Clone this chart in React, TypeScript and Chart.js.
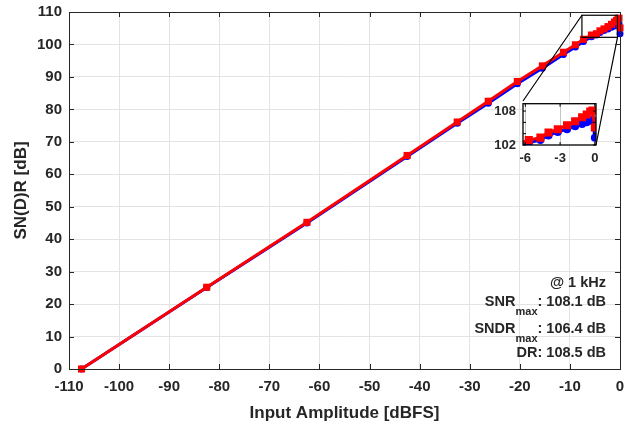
import { useEffect, useRef } from "react";
import { Chart, registerables } from "chart.js";

Chart.register(...registerables);

// ---------------- data ----------------
const INPUT_DBFS = [
  -107.5, -82.5, -62.5, -42.5, -32.5, -26.3, -20.5, -15.5, -11.3, -8.9, -7.3,
  -5.7, -4.7, -4.0, -3.2, -2.4, -1.7, -1.1, -0.7, -0.4, -0.2, 0,
];
const SNR_DB = [
  0, 25.2, 45.2, 65.8, 76.1, 82.5, 88.6, 93.4, 97.6, 99.9, 101.6,
  102.9, 103.3, 104.2, 104.8, 105.5, 106.2, 106.9, 107.4, 107.9, 108.1, 105.1,
];
const SNDR_DB = [
  0, 25.1, 45.0, 65.5, 75.7, 81.9, 87.9, 92.7, 96.9, 99.2, 100.9,
  102.4, 102.9, 103.7, 104.3, 104.8, 105.3, 105.7, 106.0, 106.3, 106.4, 103.3,
];

const X_RANGE = [-110, 0];
const Y_RANGE = [0, 110];
const X_STEP = 10;
const Y_STEP = 10;

const ZOOM_X = [-7.6, -0.5];
const ZOOM_Y = [102.2, 109];

const INSET_X_RANGE = [-6.2, 0.1];
const INSET_Y_RANGE = [102, 109.3];
const INSET_X_TICKS = [-6, -3, 0];
const INSET_Y_TICKS = [102, 104, 106, 108];
const INSET_Y_LABELED = [102, 108];

const X_TITLE = "Input Amplitude [dBFS]";
const Y_TITLE = "SN(D)R [dB]";

const NOTES: { main: string; sub?: string; rest?: string }[] = [
  { main: "@ 1 kHz" },
  { main: "SNR", sub: "max", rest: ": 108.1 dB" },
  { main: "SNDR", sub: "max", rest: ": 106.4 dB" },
  { main: "DR: 108.5 dB" },
];

// ---------------- layout / style ----------------
const W = 632;
const H = 424;
const FONT = "'Liberation Sans', Arial, Helvetica, sans-serif";
const AX = "#262626";
const GRID = "#e3e3e3";
const RED = "#ff0000";
const BLUE = "#0000ff";

const INSET_BOX = { left: 523, top: 101, width: 73, height: 44 };
const INSET_Y_AXIS_W = 44;
const INSET_X_AXIS_H = 24;
const INSET_PAD_TOP = 3;
const INSET_PAD_RIGHT = 6;
const IW = INSET_Y_AXIS_W + INSET_BOX.width + INSET_PAD_RIGHT;
const IH = INSET_PAD_TOP + INSET_BOX.height + INSET_X_AXIS_H;

const NOTE_RIGHT_OFFSET = 14; // from chart right
const NOTE_BASELINES = [82, 63.5, 36.5, 12.5]; // above chart bottom
const SUB_DROP = 9.5;

function points(ys: number[]) {
  return INPUT_DBFS.map((x, i) => ({ x, y: ys[i] }));
}

function fixX(height: number) {
  return (s: any) => {
    s.height = height;
    s.paddingLeft = 0;
    s.paddingRight = 0;
  };
}
function fixY(width: number) {
  return (s: any) => {
    s.width = width;
    s.paddingTop = 0;
    s.paddingBottom = 0;
  };
}

const mainPlugin = {
  id: "mainDecor",
  afterDatasetsDraw(chart: any) {
    const { ctx, scales } = chart;
    const xs = scales.x;
    const ys = scales.y;
    const l = xs.getPixelForValue(ZOOM_X[0]);
    const r = xs.getPixelForValue(ZOOM_X[1]);
    const t = ys.getPixelForValue(ZOOM_Y[1]);
    const b = ys.getPixelForValue(ZOOM_Y[0]);
    ctx.save();
    ctx.strokeStyle = "#000";
    ctx.lineWidth = 1.2;
    ctx.strokeRect(l, t, r - l, b - t);
    ctx.beginPath();
    ctx.moveTo(l, t);
    ctx.lineTo(INSET_BOX.left, INSET_BOX.top);
    ctx.moveTo(r, b);
    ctx.lineTo(INSET_BOX.left + INSET_BOX.width, INSET_BOX.top + INSET_BOX.height);
    ctx.stroke();
    ctx.restore();
  },
  afterDraw(chart: any) {
    const { ctx, chartArea: ca, scales } = chart;
    ctx.save();
    ctx.strokeStyle = AX;
    ctx.lineWidth = 1;
    ctx.strokeRect(Math.round(ca.left) + 0.5, Math.round(ca.top) + 0.5, Math.round(ca.right - ca.left), Math.round(ca.bottom - ca.top));
    const TL = 5;
    ctx.beginPath();
    for (const tk of scales.x.ticks) {
      const px = Math.round(scales.x.getPixelForValue(tk.value)) + 0.5;
      ctx.moveTo(px, ca.bottom);
      ctx.lineTo(px, ca.bottom - TL);
      ctx.moveTo(px, ca.top);
      ctx.lineTo(px, ca.top + TL);
    }
    for (const tk of scales.y.ticks) {
      const py = Math.round(scales.y.getPixelForValue(tk.value)) + 0.5;
      ctx.moveTo(ca.left, py);
      ctx.lineTo(ca.left + TL, py);
      ctx.moveTo(ca.right, py);
      ctx.lineTo(ca.right - TL, py);
    }
    ctx.stroke();

    // annotations
    const mainFont = `bold 14.5px ${FONT}`;
    const subFont = `bold 11px ${FONT}`;
    ctx.fillStyle = AX;
    ctx.textBaseline = "alphabetic";
    ctx.textAlign = "left";
    const right = ca.right - NOTE_RIGHT_OFFSET;
    NOTES.forEach((n, i) => {
      const y = ca.bottom - NOTE_BASELINES[i];
      ctx.font = mainFont;
      const wMain = ctx.measureText(n.main).width;
      const wRest = n.rest ? ctx.measureText(n.rest).width : 0;
      ctx.font = subFont;
      const wSub = n.sub ? ctx.measureText(n.sub).width : 0;
      let x = right - (wMain + wSub + wRest);
      ctx.font = mainFont;
      ctx.fillText(n.main, x, y);
      x += wMain;
      if (n.sub) {
        ctx.font = subFont;
        ctx.fillText(n.sub, x, y + SUB_DROP);
        x += wSub;
      }
      if (n.rest) {
        ctx.font = mainFont;
        ctx.fillText(n.rest, x, y);
      }
    });
    ctx.restore();
  },
};

const insetPlugin = {
  id: "insetDecor",
  beforeDraw(chart: any) {
    const { ctx, chartArea: ca } = chart;
    ctx.save();
    ctx.fillStyle = "#fff";
    ctx.fillRect(ca.left, ca.top, ca.right - ca.left, ca.bottom - ca.top);
    ctx.restore();
  },
  afterDraw(chart: any) {
    const { ctx, chartArea: ca, scales } = chart;
    ctx.save();
    ctx.strokeStyle = "#000";
    ctx.lineWidth = 1.3;
    ctx.strokeRect(ca.left, ca.top, ca.right - ca.left, ca.bottom - ca.top);
    const TL = 3;
    ctx.lineWidth = 1;
    ctx.beginPath();
    for (const v of INSET_X_TICKS) {
      const px = scales.x.getPixelForValue(v);
      ctx.moveTo(px, ca.bottom);
      ctx.lineTo(px, ca.bottom - TL);
      ctx.moveTo(px, ca.top);
      ctx.lineTo(px, ca.top + TL);
    }
    for (const v of INSET_Y_TICKS) {
      const py = scales.y.getPixelForValue(v);
      ctx.moveTo(ca.left, py);
      ctx.lineTo(ca.left + TL, py);
      ctx.moveTo(ca.right, py);
      ctx.lineTo(ca.right - TL, py);
    }
    ctx.stroke();
    ctx.restore();
  },
};

export default function App() {
  const mainRef = useRef<HTMLCanvasElement>(null);
  const insetRef = useRef<HTMLCanvasElement>(null);

  useEffect(() => {
    const tickFont = { family: FONT, weight: "bold" as const, size: 15 };
    const titleFont = { family: FONT, weight: "bold" as const, size: 17 };

    const main = new Chart(mainRef.current!, {
      type: "line",
      data: {
        datasets: [
          {
            label: "SNR",
            data: points(SNR_DB),
            borderColor: RED,
            backgroundColor: RED,
            borderWidth: 3,
            pointStyle: "rect",
            pointRadius: 5,
            pointBorderWidth: 0,
            clip: 6,
          } as any,
          {
            label: "SNDR",
            data: points(SNDR_DB),
            borderColor: BLUE,
            backgroundColor: BLUE,
            borderWidth: 3,
            pointStyle: "circle",
            pointRadius: 3.5,
            pointBorderWidth: 0,
            clip: 6,
          } as any,
        ],
      },
      options: {
        animation: false,
        responsive: false,
        devicePixelRatio: 1,
        layout: { padding: { left: 0, right: 12, top: 12, bottom: 0 } },
        plugins: { legend: { display: false }, tooltip: { enabled: false } },
        scales: {
          x: {
            type: "linear",
            min: X_RANGE[0],
            max: X_RANGE[1],
            ticks: { stepSize: X_STEP, color: AX, font: tickFont, padding: 9, maxRotation: 0 },
            grid: { color: GRID, drawTicks: false, lineWidth: 1 },
            border: { display: false },
            title: { display: true, text: X_TITLE, color: AX, font: titleFont, padding: { top: 0, bottom: 0 } },
            afterFit: fixX(55),
          },
          y: {
            type: "linear",
            min: Y_RANGE[0],
            max: Y_RANGE[1],
            ticks: { stepSize: Y_STEP, color: AX, font: tickFont, padding: 7 },
            grid: { color: GRID, drawTicks: false, lineWidth: 1 },
            border: { display: false },
            title: { display: true, text: Y_TITLE, color: AX, font: titleFont, padding: { top: 11, bottom: 0 } },
            afterFit: fixY(69),
          },
        },
      },
      plugins: [mainPlugin],
    });

    const insetTickFont = { family: FONT, weight: "bold" as const, size: 13 };
    const inset = new Chart(insetRef.current!, {
      type: "line",
      data: {
        datasets: [
          {
            label: "SNR",
            data: points(SNR_DB),
            borderColor: RED,
            backgroundColor: RED,
            borderWidth: 3,
            pointStyle: "rect",
            pointRadius: 5.7,
            pointBorderWidth: 0,
          } as any,
          {
            label: "SNDR",
            data: points(SNDR_DB),
            borderColor: BLUE,
            backgroundColor: BLUE,
            borderWidth: 3,
            pointStyle: "circle",
            pointRadius: 4,
            pointBorderWidth: 0,
          } as any,
        ],
      },
      options: {
        animation: false,
        responsive: false,
        devicePixelRatio: 1,
        layout: { padding: { left: 0, right: INSET_PAD_RIGHT, top: INSET_PAD_TOP, bottom: 0 } },
        plugins: { legend: { display: false }, tooltip: { enabled: false } },
        scales: {
          x: {
            type: "linear",
            min: INSET_X_RANGE[0],
            max: INSET_X_RANGE[1],
            afterBuildTicks: (s: any) => {
              s.ticks = INSET_X_TICKS.map((v) => ({ value: v }));
            },
            ticks: { color: AX, font: insetTickFont, padding: 6, maxRotation: 0, autoSkip: false },
            grid: { color: "#c4c4c4", drawTicks: false },
            border: { display: false },
            afterFit: fixX(INSET_X_AXIS_H),
          },
          y: {
            type: "linear",
            min: INSET_Y_RANGE[0],
            max: INSET_Y_RANGE[1],
            afterBuildTicks: (s: any) => {
              s.ticks = INSET_Y_TICKS.map((v) => ({ value: v }));
            },
            ticks: {
              color: AX,
              font: insetTickFont,
              padding: 7,
              autoSkip: false,
              callback: (v: any) => (INSET_Y_LABELED.includes(Number(v)) ? String(v) : ""),
            },
            grid: { display: false, drawTicks: false },
            border: { display: false },
            afterFit: fixY(INSET_Y_AXIS_W),
          },
        },
      },
      plugins: [insetPlugin],
    });

    return () => {
      main.destroy();
      inset.destroy();
    };
  }, []);

  return (
    <div style={{ position: "fixed", left: 0, top: 0, width: W, height: H, background: "#fff" }}>
      <canvas
        ref={mainRef}
        width={W}
        height={H}
        style={{ position: "absolute", left: 0, top: 0, width: W, height: H }}
      />
      <canvas
        ref={insetRef}
        width={IW}
        height={IH}
        style={{
          position: "absolute",
          left: INSET_BOX.left - INSET_Y_AXIS_W,
          top: INSET_BOX.top - INSET_PAD_TOP,
          width: IW,
          height: IH,
        }}
      />
    </div>
  );
}
